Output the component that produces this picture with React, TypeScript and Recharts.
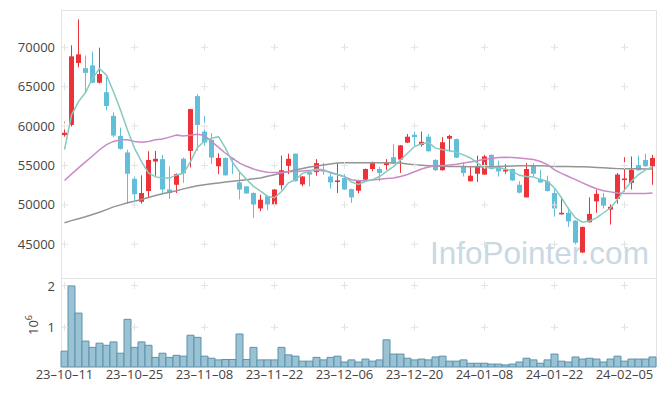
import { Bar, BarChart, ComposedChart, Line, ReferenceDot, XAxis, YAxis } from "recharts";

const dates = [
	"23-10-11", "23-10-12", "23-10-13", "23-10-16", "23-10-17", "23-10-18", "23-10-19", "23-10-20", "23-10-23", "23-10-24",
	"23-10-25", "23-10-26", "23-10-27", "23-10-30", "23-10-31", "23-11-01", "23-11-02", "23-11-03", "23-11-06", "23-11-07",
	"23-11-08", "23-11-09", "23-11-10", "23-11-13", "23-11-14", "23-11-15", "23-11-16", "23-11-17", "23-11-20", "23-11-21",
	"23-11-22", "23-11-23", "23-11-24", "23-11-27", "23-11-28", "23-11-29", "23-11-30", "23-12-01", "23-12-04", "23-12-05",
	"23-12-06", "23-12-07", "23-12-08", "23-12-11", "23-12-12", "23-12-13", "23-12-14", "23-12-15", "23-12-18", "23-12-19",
	"23-12-20", "23-12-21", "23-12-22", "23-12-26", "23-12-27", "23-12-28", "24-01-02", "24-01-03", "24-01-04", "24-01-05",
	"24-01-08", "24-01-09", "24-01-10", "24-01-11", "24-01-12", "24-01-15", "24-01-16", "24-01-17", "24-01-18", "24-01-19",
	"24-01-22", "24-01-23", "24-01-24", "24-01-25", "24-01-26", "24-01-29", "24-01-30", "24-01-31", "24-02-01", "24-02-02",
	"24-02-05", "24-02-06", "24-02-07", "24-02-08", "24-02-13",
];

const openPrices = [
	58850, 60150, 68000, 67350, 67700, 65500, 64300, 61300, 58750, 56650,
	53300, 50400, 51750, 55500, 55800, 51950, 52550, 55850, 56850, 63800,
	59300, 58250, 54900, 55950, 55900, 52850, 52350, 51500, 49550, 51100,
	50050, 52500, 54950, 56500, 52600, 54150, 54150, 54450, 53600, 52900,
	53400, 52000, 51800, 53200, 54550, 54550, 55050, 56050, 55750, 57900,
	58900, 57600, 58650, 55700, 54400, 58400, 58350, 54900, 53000, 53950,
	53850, 56350, 54950, 54250, 54550, 52550, 50950, 54950, 53300, 53000,
	51500, 48800, 49000, 48000, 43950, 47800, 50450, 50950, 49400, 50750,
	53150, 52800, 55050, 55700, 54900,
];
const highPrices = [
	60550, 70250, 73550, 68950, 69450, 69950, 66250, 61750, 59800, 57000,
	53600, 53750, 56800, 56850, 56350, 54900, 54000, 56000, 62200, 64050,
	61300, 59100, 56550, 56000, 56000, 54200, 52400, 51600, 51300, 51150,
	52000, 56250, 56500, 56500, 53650, 54250, 55800, 55300, 54050, 55300,
	53900, 52050, 53200, 54600, 55500, 54800, 55800, 57700, 57600, 59000,
	59300, 59300, 59000, 55800, 58600, 58900, 58400, 55300, 54900, 56250,
	56350, 56400, 55600, 55150, 54600, 53000, 55300, 55300, 54450, 53700,
	52000, 50900, 49650, 48050, 47250, 50950, 51950, 51500, 50050, 54050,
	56050, 56150, 56250, 56500, 56350,
];
const lowPrices = [
	58650, 59950, 67450, 64250, 65450, 65400, 62000, 58600, 57000, 50150,
	50450, 50150, 50950, 53700, 51400, 50750, 51500, 52800, 54750, 56900,
	57500, 55200, 53900, 53700, 53900, 50700, 51400, 48350, 49200, 49300,
	49650, 51950, 53900, 52950, 52350, 52350, 53700, 53800, 52050, 51500,
	51900, 50250, 51450, 53150, 54250, 53000, 54450, 55250, 54050, 57850,
	57500, 57400, 56750, 54300, 54350, 56750, 55950, 53600, 52950, 52900,
	53800, 54500, 53600, 53950, 53050, 51450, 50950, 53600, 52800, 51700,
	48500, 48750, 47200, 45000, 43900, 47750, 49000, 49550, 47500, 50150,
	51700, 51950, 54350, 54850, 52550,
];
const closePrices = [
	59150, 68850, 69100, 66750, 65500, 66600, 62550, 58800, 57100, 53950,
	51350, 51500, 55700, 55850, 51950, 51500, 53900, 54000, 62150, 60150,
	57900, 56000, 55950, 53750, 55800, 51950, 51450, 50050, 50650, 50050,
	51950, 54400, 55850, 53000, 53600, 53850, 55300, 54250, 52850, 53100,
	51950, 50950, 53150, 54550, 55300, 54050, 55300, 55300, 57550, 58650,
	58600, 58000, 56800, 54400, 57950, 58750, 56000, 54050, 53700, 54950,
	56150, 54550, 54250, 54450, 53100, 51550, 54550, 53950, 52850, 51750,
	49550, 49000, 47900, 45200, 47200, 48850, 51400, 49900, 49750, 53850,
	53350, 54450, 54400, 54900, 55950,
];

const ma5 = [
	57000, 61400, 63100, 64250, 66050, 67300, 66450, 64350, 62050, 59500,
	57200, 55500, 54050, 53550, 53400, 53400, 53800, 54000, 55500, 57300,
	58100, 58450, 58650, 57200, 55400, 54200, 53250, 52350, 51750, 51100,
	50900, 51700, 52800, 53200, 54000, 54250, 54550, 54450, 54050, 53850,
	53600, 52900, 52600, 53000, 53200, 53600, 54250, 54850, 55700, 56550,
	57400, 57750, 57900, 57200, 57000, 56900, 56650, 56350, 55950, 55300,
	54700, 54700, 54700, 54550, 54250, 53750, 53600, 53550, 53200, 53000,
	52150, 50900, 49500, 48350, 47800, 47950, 48350, 49000, 49600, 50700,
	51900, 53000, 53850, 54450, 54800,
];
const ma20 = [
	53100, 53900, 54700, 55450, 56200, 57000, 57650, 58050, 58250, 58250,
	58050, 57950, 58050, 58250, 58350, 58600, 58850, 58750, 58850, 58950,
	58800, 58050, 57300, 56550, 55900, 55300, 54900, 54550, 54300, 54150,
	54100, 54100, 54200, 54250, 54300, 54350, 54400, 54350, 54150, 53850,
	53550, 53200, 53050, 53050, 53150, 53250, 53350, 53400, 53600, 53850,
	54200, 54550, 54800, 54950, 55000, 55050, 55150, 55300, 55450, 55600,
	55800, 55900, 56000, 56050, 56000, 55950, 55850, 55750, 55500, 55100,
	54450, 54000, 53600, 53200, 52800, 52400, 52050, 51800, 51650, 51500,
	51450, 51450, 51450, 51450, 51500,
];
const ma60 = [
	47730, 48000, 48250, 48490, 48780, 49070, 49400, 49750, 50000, 50260,
	50470, 50680, 50930, 51180, 51400, 51600, 51800, 52030, 52230, 52440,
	52560, 52680, 52790, 52890, 52990, 53090, 53200, 53310, 53420, 53620,
	53830, 54040, 54250, 54430, 54620, 54800, 54930, 55060, 55190, 55310,
	55330, 55340, 55350, 55350, 55350, 55340, 55330, 55320, 55300, 55200,
	55100, 55030, 54960, 54900, 54890, 54880, 54870, 54860, 54850, 54830,
	54820, 54850, 54880, 54900, 54930, 54950, 54970, 54970, 54950, 54920,
	54880, 54870, 54860, 54850, 54840, 54800, 54750, 54700, 54650, 54600,
	54590, 54580, 54570, 54560, 54550,
];

const volumes = [
	430000, 1990000, 1340000, 670000, 520000, 620000, 570000, 650000, 380000, 1190000,
	520000, 650000, 570000, 280000, 380000, 280000, 330000, 310000, 810000, 760000,
	310000, 260000, 220000, 230000, 230000, 840000, 230000, 520000, 220000, 220000,
	220000, 520000, 340000, 310000, 190000, 190000, 280000, 220000, 280000, 310000,
	170000, 220000, 170000, 240000, 190000, 220000, 700000, 360000, 360000, 260000,
	220000, 240000, 220000, 290000, 310000, 190000, 190000, 220000, 140000, 140000,
	140000, 120000, 120000, 100000, 120000, 170000, 260000, 220000, 140000, 220000,
	360000, 190000, 170000, 290000, 240000, 260000, 240000, 170000, 240000, 310000,
	190000, 240000, 240000, 240000, 290000,
];

const priceTicks = [45000, 50000, 55000, 60000, 65000, 70000];
const volumeTicks = [1000000, 2000000];
const labelDates = [
	"23-10-11", "23-10-25", "23-11-08", "23-11-22", "23-12-06",
	"23-12-20", "24-01-08", "24-01-22", "24-02-05",
];

const UP = "#ec3339";
const DOWN = "#63bfd9";
const GRID = "#e3e3e3";
const FONT = "'Open Sans', sans-serif";

const rows = dates.map((date, i) => ({
	date,
	open: openPrices[i],
	high: highPrices[i],
	low: lowPrices[i],
	close: closePrices[i],
	ma5: ma5[i],
	ma20: ma20[i],
	ma60: ma60[i],
	volume: volumes[i],
}));

const tickStyle = { fill: "#444", fontSize: 13, fontFamily: FONT };

function Candle(props: any) {
	const { x, y, width, height, payload } = props;
	const top = Math.min(y, y + height);
	const h = Math.abs(height);
	const range = payload.high - payload.low || 1;
	const py = (v: number) => top + ((payload.high - v) / range) * h;
	const color = payload.close >= payload.open ? UP : DOWN;
	const cx = x + width / 2;
	const bodyTop = py(Math.max(payload.open, payload.close));
	const bodyBottom = py(Math.min(payload.open, payload.close));
	return (
		<g>
			<line x1={cx} x2={cx} y1={top} y2={top + h} stroke={color} strokeWidth={1} />
			<rect x={x} y={bodyTop} width={width} height={Math.max(1, bodyBottom - bodyTop)} fill={color} />
		</g>
	);
}

function Cross(props: any) {
	const { cx, cy } = props;
	return (
		<path
			d={`M${cx - 3.5},${cy}h7M${cx},${cy - 3.5}v7`}
			stroke={GRID}
			strokeWidth={1}
			fill='none'
		/>
	);
}

function crosses(values: number[]) {
	return labelDates.flatMap((d) =>
		values.map((v) => (
			<ReferenceDot key={`${d}-${v}`} x={d} y={v} r={0} shape={Cross} ifOverflow='visible' />
		))
	);
}

const line = (left: number, top: number, width: number, height: number) => (
	<div style={{ position: "absolute", left, top, width, height, background: GRID }} />
);

export default function App() {
	return (
		<div style={{ position: "absolute", left: 0, top: 0, width: 665, height: 396, background: "#fff", overflow: "hidden" }}>
			{line(61, 10, 596, 1)}
			{line(61, 10, 1, 357)}
			{line(656, 10, 1, 357)}
			{line(61, 278, 596, 1)}
			<div
				style={{
					position: "absolute",
					left: 430,
					top: 235,
					fontFamily: "'Liberation Sans', Arial, sans-serif",
					fontSize: 31.5,
					color: "#c9d9e4",
					whiteSpace: "nowrap",
				}}
			>
				InfoPointer.com
			</div>
			<div style={{ position: "absolute", left: 0, top: 0 }}>
				<ComposedChart width={665} height={278} data={rows} margin={{ top: 10, right: 9, bottom: 0, left: 0 }}>
					<XAxis dataKey='date' hide />
					<YAxis
						width={61}
						domain={[40720, 74730]}
						ticks={priceTicks}
						axisLine={false}
						tickLine={false}
						tickSize={0}
						tickMargin={6}
						tick={tickStyle}
					/>
					{crosses(priceTicks)}
					<Bar dataKey={(d: any) => [d.low, d.high]} barSize={5} shape={Candle} isAnimationActive={false} />
					<Line dataKey='ma60' stroke='#949494' strokeWidth={1.5} dot={false} isAnimationActive={false} />
					<Line dataKey='ma20' stroke='#c98ac7' strokeWidth={1.5} dot={false} isAnimationActive={false} />
					<Line dataKey='ma5' stroke='#86cabd' strokeWidth={1.5} dot={false} isAnimationActive={false} />
				</ComposedChart>
			</div>
			<div style={{ position: "absolute", left: 0, top: 278 }}>
				<BarChart width={665} height={118} data={rows} margin={{ top: 0, right: 9, bottom: 0, left: 0 }} barCategoryGap={0}>
					<XAxis
						dataKey='date'
						height={29}
						interval={9}
						axisLine={false}
						tickLine={false}
						tickSize={0}
						tickMargin={3}
						tick={tickStyle}
						tickFormatter={(d: string) => d.replace(/-/g, "–")}
					/>
					<YAxis
						width={61}
						domain={[50000, 2180000]}
						ticks={volumeTicks}
						axisLine={false}
						tickLine={false}
						tickSize={0}
						tickMargin={6}
						tick={tickStyle}
						tickFormatter={(v: number) => String(v / 1000000)}
					/>
					{crosses(volumeTicks)}
					<Bar dataKey='volume' fill='#9bc2d2' stroke='#5a93ae' strokeWidth={1} isAnimationActive={false} />
				</BarChart>
				<svg style={{ position: "absolute", left: 0, top: 0 }} width={61} height={89}>
					<text
						x={0}
						y={0}
						transform='translate(38 47) rotate(-90)'
						fontFamily={FONT}
						fontSize={13}
						fill='#444'
						textAnchor='middle'
					>
						10
						<tspan dy={-6} fontSize={9}>6</tspan>
					</text>
				</svg>
			</div>
		</div>
	);
}
